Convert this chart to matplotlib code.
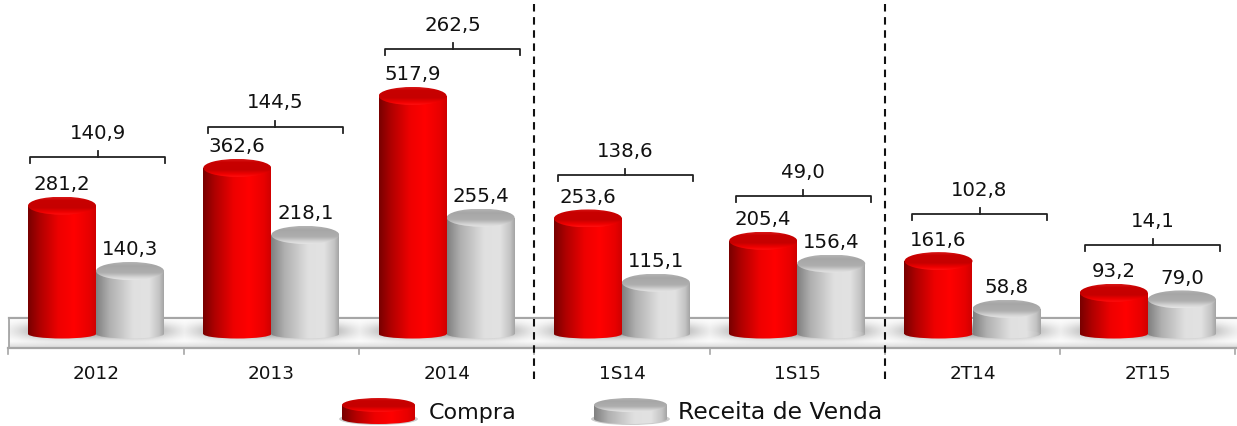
import numpy as np
import matplotlib
matplotlib.use("Agg")
import matplotlib.pyplot as plt
from matplotlib.colors import LinearSegmentedColormap
from matplotlib.patches import Ellipse, Rectangle

categories = ["2012", "2013", "2014", "1S14", "1S15", "2T14", "2T15"]
compra = [281.2, 362.6, 517.9, 253.6, 205.4, 161.6, 93.2]
receita = [140.3, 218.1, 255.4, 115.1, 156.4, 58.8, 79.0]
diferenca = ["140,9", "144,5", "262,5", "138,6", "49,0", "102,8", "14,1"]
series_names = ["Compra", "Receita de Venda"]
separators = [2.5, 4.5]
bracket_levels = [386, 451, 619, 347, 302, 263, 196]
bracket_shift_px = [0, 2.5, 4.5, 2, 4.5, 5.5, 3.5]

W, H = 1237, 427
X0, DX = 96.0, 175.3
Y0, S = 337.0, 0.4635
BW = 68 / DX


def px_x(p):
    return (p - X0) / DX


def px_y(p):
    return (Y0 - p) / S


def dh(p):
    return p / S


fig = plt.figure(figsize=(W / 100, H / 100), dpi=100)
ax = fig.add_axes([0, 0, 1, 1])
ax.set_xlim(px_x(0), px_x(W))
ax.set_ylim(px_y(H), px_y(0))
ax.axis("off")
plt.rcParams["font.family"] = "DejaVu Sans"

red_cm = LinearSegmentedColormap.from_list("r", [(0, "#780000"), (0.18, "#b00000"), (0.45, "#ee0000"), (0.68, "#ff0000"), (0.9, "#e80000"), (1, "#d00000")])
gray_cm = LinearSegmentedColormap.from_list("g", [(0, "#808080"), (0.2, "#b0b0b0"), (0.55, "#e0e0e0"), (0.78, "#e2e2e2"), (0.93, "#c4c4c4"), (1, "#a4a4a4")])
red_top = LinearSegmentedColormap.from_list("rt", [(0, "#d81818"), (0.18, "#c80000"), (0.6, "#c60000"), (0.85, "#f00000"), (1, "#ff1010")])
gray_top = LinearSegmentedColormap.from_list("gt", [(0, "#b4b4b4"), (0.2, "#a6a6a6"), (0.6, "#aeaeae"), (0.85, "#d4d4d4"), (1, "#e6e6e6")])
grad = np.linspace(0, 1, 256).reshape(1, -1)
vgrad = np.linspace(0, 1, 64).reshape(-1, 1)


def gradient(x0, x1, y0, y1, cm, clip, z):
    im = ax.imshow(grad, cmap=cm, extent=(x0, x1, y0, y1), aspect="auto", zorder=z, interpolation="bilinear")
    im.set_clip_path(clip)


def cylinder(xc, width, val, base, cm, top_cm, z, bottom_h=4.5, top_h=9):
    x0, x1 = xc - width / 2, xc + width / 2
    body = Rectangle((x0, base), width, val - base, transform=ax.transData, fc="none", ec="none", zorder=z)
    ax.add_patch(body)
    gradient(x0, x1, base - dh(bottom_h), val, cm, body, z)
    bot = Ellipse((xc, base), width, dh(2 * bottom_h), fc="none", ec="none", zorder=z)
    ax.add_patch(bot)
    gradient(x0, x1, base - dh(bottom_h), base + dh(bottom_h), cm, bot, z)
    top = Ellipse((xc, val), width, dh(2 * top_h), fc="none", ec="none", zorder=z + 0.1)
    ax.add_patch(top)
    im = ax.imshow(vgrad, cmap=top_cm, extent=(x0, x1, val - dh(top_h), val + dh(top_h)), aspect="auto",
                   zorder=z + 0.1, origin="upper", interpolation="bilinear")
    im.set_clip_path(top)


# floor
floor_y_back, floor_y_front = px_y(319), px_y(349)
xl, xr = px_x(8.5), px_x(W)
fl = LinearSegmentedColormap.from_list("f", [(0, "#ffffff"), (0.78, "#ffffff"), (1, "#d8d8d8")])
ax.imshow(np.linspace(0, 1, 64).reshape(-1, 1), cmap=fl, extent=(xl, xr, floor_y_front, floor_y_back), aspect="auto", zorder=1, origin="upper")
edge = "#a6a6a6"
ax.plot([xl, xr], [floor_y_back, floor_y_back], color=edge, lw=1.6, zorder=2)
ax.plot([xl, xl], [floor_y_back, floor_y_front], color=edge, lw=1.3, zorder=2)
ax.plot([px_x(7.5), xr], [floor_y_front, floor_y_front], color=edge, lw=1.6, zorder=2)
for i in range(len(categories) + 1):
    xt = i - 0.5
    ax.plot([xt, xt], [floor_y_front, px_y(355)], color=edge, lw=1.2, zorder=2)

# soft shadows on the floor
gx = np.linspace(xl, xr, 1230)
gy = np.linspace(px_y(321), px_y(347), 40)
XX, YY = np.meshgrid(gx, gy)
alpha = np.zeros_like(XX)
for i in range(len(categories)):
    alpha = np.maximum(alpha, np.exp(-(((XX - i) * DX / 76) ** 4 + ((YY - px_y(332)) * S / 8.5) ** 2)))
rgba = np.zeros(XX.shape + (4,))
rgba[..., :3] = 0.5
rgba[..., 3] = alpha * 0.8
ax.imshow(rgba, extent=(xl, xr, px_y(347), px_y(321)), aspect="auto", zorder=3, origin="upper", interpolation="bilinear")

# cylinders
base = dh(2)
for i, (a, b) in enumerate(zip(compra, receita)):
    cylinder(i - BW / 2, BW, a, base, red_cm, red_top, 5)
    cylinder(i + BW / 2, BW, b, base, gray_cm, gray_top, 6)
    for xc, v in ((i - BW / 2, a), (i + BW / 2, b)):
        ax.annotate(f"{v:.1f}".replace(".", ","), (xc, v), xytext=(0, 12.5), textcoords="offset pixels",
                    ha="center", va="bottom", fontsize=14.2, color="#111111", zorder=8)
    ax.text(i, px_y(374), categories[i], ha="center", va="center", fontsize=13.2, color="#111111", zorder=8)

    # bracket
    lvl = bracket_levels[i]
    x0 = i - BW + (2 + bracket_shift_px[i]) / DX
    x1 = x0 + 135 / DX
    ax.plot([x0, x0, x1, x1], [lvl - dh(6), lvl, lvl, lvl - dh(6)], color="#222222", lw=1.3, zorder=8)
    xm = (x0 + x1) / 2
    ax.plot([xm, xm], [lvl, lvl + dh(6)], color="#222222", lw=1.3, zorder=8)
    ax.annotate(diferenca[i], (xm, lvl), xytext=(0, 15.5), textcoords="offset pixels",
                ha="center", va="bottom", fontsize=14.2, color="#111111", zorder=8)

for s in separators:
    ax.plot([s, s], [px_y(380), px_y(5)], color="#111111", lw=1.5, dashes=(3.6, 2.7), zorder=9)

# legend
for (xa, xb, txt, cm, tc, xtxt, fs) in (
    (342, 415, series_names[0], red_cm, red_top, 429, 16),
    (594, 667, series_names[1], gray_cm, gray_top, 678, 16.9),
):
    xc, wd = px_x((xa + xb) / 2), (xb - xa) / DX
    ax.add_patch(Ellipse((xc, px_y(420)), wd * 1.08, dh(12), fc="#999999", ec="none", alpha=0.5, zorder=4))
    cylinder(xc, wd, px_y(406), px_y(420), cm, tc, 5, bottom_h=5, top_h=7)
    ax.text(px_x(xtxt), px_y(413), txt, ha="left", va="center", fontsize=fs, color="#111111", zorder=8)

ax.set_xlim(px_x(0), px_x(W))
ax.set_ylim(px_y(H), px_y(0))
fig.savefig("out.png", dpi=100, facecolor="white")
